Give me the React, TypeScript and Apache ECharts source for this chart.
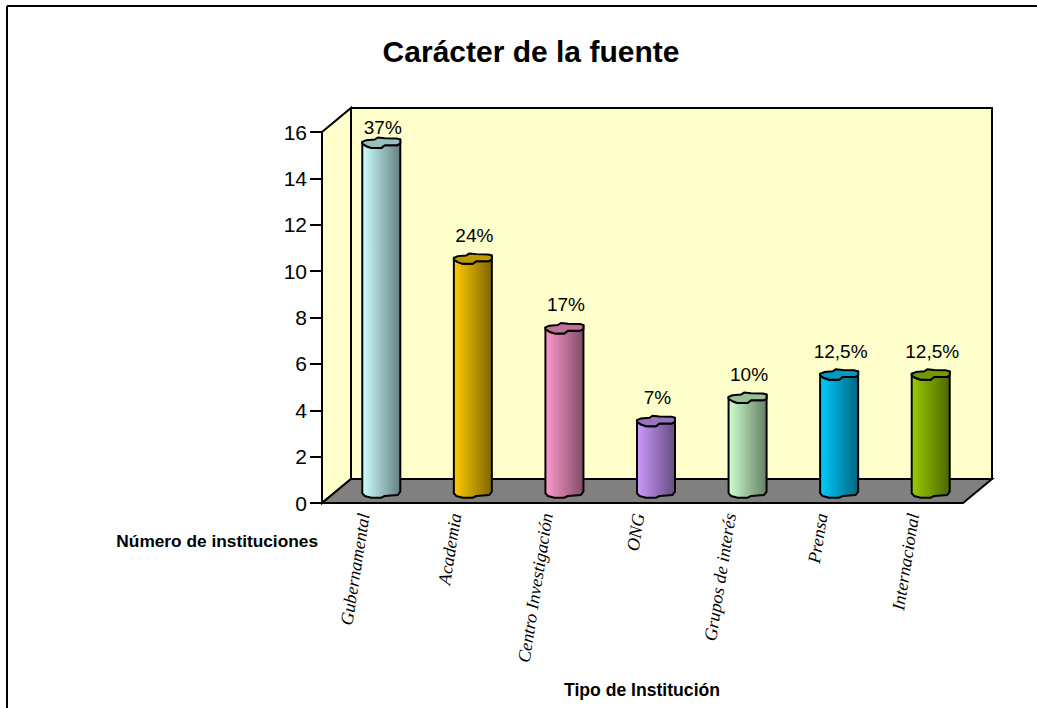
import React, { useEffect, useRef } from "react";
import * as echarts from "echarts";

const categories = ["Gubernamental", "Academia", "Centro Investigación", "ONG", "Grupos de interés", "Prensa", "Internacional"];
const values = [15, 10, 7, 3, 4, 5, 5];
const percentLabels = ["37%", "24%", "17%", "7%", "10%", "12,5%", "12,5%"];
const lightColors = ["#CCFFFF", "#FFCC00", "#FF99CC", "#CC99FF", "#CCFFCC", "#00CCFF", "#99CC00"];
const darkColors = ["#668080", "#806600", "#804D66", "#664D80", "#668066", "#006680", "#4D6600"];
const capColors = ["#99BFBF", "#BF9900", "#BF7399", "#9973BF", "#99BF99", "#0099BF", "#739900"];

const DEPTH_X = 29;
const DEPTH_Y = -24;
const BAR_SHIFT_X = 13.5;
const BAR_SHIFT_Y = -12;

// wobbly outline of the cylinder ends, relative to the centre of the end
const capFront: number[][] = [[-19, -1.3], [-19, 0.5], [-15, 3], [-10, 4.7], [0, 4.7], [3.5, 2], [16, 2], [19, 0.3], [19, -3.7]];
const capBack: number[][] = [[15.5, -4.7], [3.5, -5], [-3.5, -5.7], [-6.5, -3.7], [-15, -3]];
const baseFront: number[][] = [[19, 0.7], [16.5, 4], [3.5, 5], [0, 6.7], [-10, 6.7], [-16.5, 5], [-19, 2.3]];

function renderWalls(_: any, api: any) {
  const o = api.coord([0, 0]);
  const yTop = api.coord([0, 16])[1];
  const size = api.size([1, 0])[0];
  const xl = o[0] - size / 2;
  const xr = xl + size * categories.length;
  const y0 = o[1];
  const line = { stroke: "#000", lineWidth: 2, lineJoin: "miter" };
  return {
    type: "group",
    children: [
      { type: "polygon", shape: { points: [[xl + DEPTH_X, yTop + DEPTH_Y], [xr + DEPTH_X, yTop + DEPTH_Y], [xr + DEPTH_X, y0 + DEPTH_Y], [xl + DEPTH_X, y0 + DEPTH_Y]] }, style: { fill: "#FFFFCC", ...line } },
      { type: "polygon", shape: { points: [[xl, yTop], [xl + DEPTH_X, yTop + DEPTH_Y], [xl + DEPTH_X, y0 + DEPTH_Y], [xl, y0]] }, style: { fill: "#FFFFCC", ...line } },
      { type: "polygon", shape: { points: [[xl, y0], [xl + DEPTH_X, y0 + DEPTH_Y], [xr + DEPTH_X, y0 + DEPTH_Y], [xr, y0]] }, style: { fill: "#808080", ...line } },
    ],
  };
}

function renderBar(params: any, api: any) {
  const i = params.dataIndex;
  const p = api.coord([api.value(0), api.value(1)]);
  const b = api.coord([api.value(0), 0]);
  const wallTop = api.coord([0, 16])[1] + DEPTH_Y;
  const cx = p[0] + BAR_SHIFT_X;
  const yt = p[1] + BAR_SHIFT_Y;
  const yb = b[1] + BAR_SHIFT_Y;
  const bodyPts = [
    ...capFront.map(([dx, dy]) => [cx + dx, yt + dy]),
    ...baseFront.map(([dx, dy]) => [cx + dx, yb + dy]),
  ];
  const capPts = [...capFront, ...capBack].map(([dx, dy]) => [cx + dx, yt + dy]);
  const stroke = { stroke: "#000", lineWidth: 2, lineJoin: "round" };
  return {
    type: "group",
    children: [
      {
        type: "polygon",
        shape: { points: bodyPts },
        style: {
          fill: new echarts.graphic.LinearGradient(0, 0, 1, 0, [
            { offset: 0, color: lightColors[i] },
            { offset: 1, color: darkColors[i] },
          ]),
          ...stroke,
        },
      },
      { type: "polygon", shape: { points: capPts }, style: { fill: capColors[i], ...stroke } },
      {
        type: "text",
        style: {
          x: cx + 1.5,
          y: Math.max(yt - 24, wallTop + 19),
          text: percentLabels[i],
          fill: "#000",
          font: "19px 'Liberation Sans'",
          align: "center",
          verticalAlign: "middle",
        },
      },
    ],
  };
}

export default function App() {
  const ref = useRef<HTMLDivElement>(null);
  useEffect(() => {
    document.body.style.margin = "0";
    const chart = echarts.init(ref.current!, null, { renderer: "svg" });
    chart.setOption({
      animation: false,
      backgroundColor: "#fff",
      textStyle: { fontFamily: "Liberation Sans" },
      title: {
        text: "Carácter de la fuente",
        left: 526,
        top: 31,
        textAlign: "center",
        textStyle: { fontFamily: "Liberation Sans", fontSize: 30, fontWeight: "bold", color: "#000" },
      },
      grid: { left: 322, right: 74, top: 132, bottom: 205, containLabel: false },
      xAxis: {
        type: "category",
        data: categories,
        z: 5,
        axisLine: { lineStyle: { color: "#000", width: 2 } },
        axisTick: { length: 9, lineStyle: { color: "#000", width: 2 } },
        axisLabel: {
          rotate: 81,
          interval: 0,
          margin: 11,
          verticalAlign: "bottom",
          lineHeight: 8,
          color: "#000",
          fontFamily: "Liberation Serif",
          fontStyle: "italic",
          fontSize: 18,
        },
        splitLine: { show: false },
      },
      yAxis: {
        type: "value",
        min: 0,
        max: 16,
        interval: 2,
        z: 5,
        axisLine: { show: true, lineStyle: { color: "#000", width: 2 } },
        axisTick: { show: true, length: 12, lineStyle: { color: "#000", width: 2 } },
        axisLabel: { margin: 15, color: "#000", fontFamily: "Liberation Sans", fontSize: 21 },
        splitLine: { show: false },
      },
      series: [
        {
          type: "custom",
          z: 1,
          clip: false,
          silent: true,
          data: [[0, 0]],
          encode: { x: 0, y: 1 },
          renderItem: renderWalls,
        },
        {
          type: "custom",
          z: 3,
          clip: false,
          data: values.map((v, i) => [i, v]),
          encode: { x: 0, y: 1 },
          renderItem: renderBar,
        },
      ],
      graphic: [
        { type: "line", shape: { x1: 7, y1: 6, x2: 1037, y2: 6 }, style: { stroke: "#000", lineWidth: 2 } },
        { type: "line", shape: { x1: 7, y1: 6, x2: 7, y2: 708 }, style: { stroke: "#000", lineWidth: 2 } },
        {
          type: "text",
          x: 318,
          y: 541,
          style: { text: "Número de instituciones", font: "bold 17.3px 'Liberation Sans'", fill: "#000", align: "right", verticalAlign: "middle" },
        },
        {
          type: "text",
          x: 642,
          y: 690,
          style: { text: "Tipo de Institución", font: "bold 17.6px 'Liberation Sans'", fill: "#000", align: "center", verticalAlign: "middle" },
        },
      ],
    });
    return () => chart.dispose();
  }, []);
  return <div ref={ref} style={{ width: 1037, height: 708 }} />;
}
